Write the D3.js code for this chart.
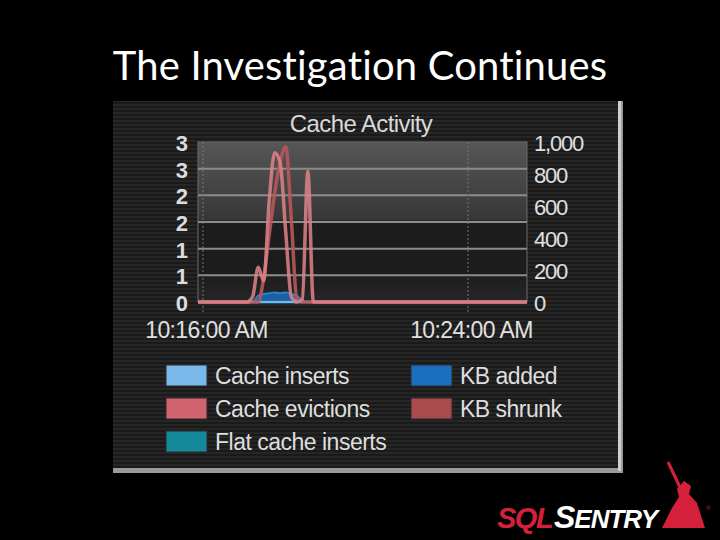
<!DOCTYPE html>
<html><head><meta charset="utf-8">
<script src="https://d3js.org/d3.v7.min.js"></script>
<style>html,body{margin:0;padding:0;background:#000;}svg{display:block;}</style>
</head><body>
<script>
// ---- data ----
const slideTitle = "The Investigation Continues";
const chartTitle = "Cache Activity";
const times = ["10:15:51","10:17:20","10:17:30","10:17:40","10:17:50","10:18:00","10:18:10","10:18:20","10:18:30","10:18:40","10:18:50","10:19:00","10:19:10","10:19:20","10:19:30","10:25:47"];
const cacheInserts     = [0,0,0,0,0,0,0,0,0,0,0,0,0,0,0,0];
const cacheEvictions   = [0,0,0.1,0.65,0.4,1.9,2.8,2.6,1.3,0.1,0,0.05,2.45,0,0,0];
const flatCacheInserts = [0,0,0,0,0,0,0,0,0,0,0,0,0,0,0,0];
const kbAdded          = [0,0,0,40,50,55,60,55,60,50,40,10,0,0,0,0];
const kbShrunk         = [0,0,0,0,150,420,680,880,970,520,20,0,0,0,0,0];
const leftTicks  = [0,0.5,1,1.5,2,2.5,3];
const rightTicks = [0,200,400,600,800,1000];
const xTicks = ["10:16:00","10:24:00"];
const legendItems = [
  {name:"Cache inserts", color:"#7ab8ea", col:0, row:0},
  {name:"Cache evictions", color:"#d2646f", col:0, row:1},
  {name:"Flat cache inserts", color:"#13899a", col:0, row:2},
  {name:"KB added", color:"#1c6fc0", col:1, row:0},
  {name:"KB shrunk", color:"#a94a4c", col:1, row:1}
];

const W=720,H=540;
const svg=d3.select("body").append("svg").attr("width",W).attr("height",H);
svg.append("rect").attr("width",W).attr("height",H).attr("fill","#000");

const defs=svg.append("defs");
const pat=defs.append("pattern").attr("id","stripes").attr("width",4).attr("height",4).attr("patternUnits","userSpaceOnUse");
pat.append("rect").attr("width",4).attr("height",4).attr("fill","#1a1a1a");
pat.append("rect").attr("width",4).attr("height",2).attr("fill","#262626");
const grad=defs.append("linearGradient").attr("id","plotbg").attr("x1",0).attr("x2",0).attr("y1",0).attr("y2",1);
[[0,"#565656"],[0.48,"#383838"],[0.5,"#1d1d1d"],[0.8,"#1c1c1c"],[1,"#262626"]].forEach(s=>grad.append("stop").attr("offset",s[0]).attr("stop-color",s[1]));

// slide title
const tt=svg.append("text").attr("x",360).attr("y",80).attr("text-anchor","middle")
  .attr("font-family","Lato, 'Open Sans', sans-serif").attr("font-size",38).attr("fill","#fff")
  .attr("letter-spacing",0.2)
  .style("font-variant-ligatures","none").style("font-feature-settings","'liga' 0, 'clig' 0, 'dlig' 0, 'calt' 0").text(slideTitle);
const tw=tt.node().getComputedTextLength();
tt.attr("font-size",38*495/tw);

// panel
svg.append("rect").attr("x",113).attr("y",101).attr("width",510).attr("height",372).attr("fill","#9a9a9a");
svg.append("rect").attr("x",113).attr("y",101).attr("width",505).attr("height",367).attr("fill","url(#stripes)");
svg.append("rect").attr("x",618).attr("y",101).attr("width",3).attr("height",370).attr("fill","#d0d0d0");

const font="'Liberation Sans', Arial, sans-serif";
svg.append("text").attr("x",361).attr("y",132).attr("text-anchor","middle").attr("font-family",font)
  .attr("font-size",24).attr("fill","#d8d8d8").attr("letter-spacing",-0.6).text(chartTitle);

const parse=d3.timeParse("%H:%M:%S");
const tdates=times.map(parse);
const x=d3.scaleTime().domain([parse("10:15:51"),parse("10:25:47")]).range([198,527]);
const yL=d3.scaleLinear().domain([0,3]).range([302,142]);
const yR=d3.scaleLinear().domain([0,1000]).range([302,142]);

// plot background
svg.append("rect").attr("x",198).attr("y",142).attr("width",329).attr("height",160).attr("fill","url(#plotbg)").attr("stroke","#6a6a6a");

// gridlines
svg.append("g").selectAll("line").data(leftTicks.slice(1,-1)).join("line")
  .attr("x1",198).attr("x2",527).attr("y1",d=>yL(d)).attr("y2",d=>yL(d))
  .attr("stroke","#8c8c8c").attr("stroke-width",2);
svg.append("g").selectAll("line").data(xTicks).join("line")
  .attr("x1",d=>x(parse(d))).attr("x2",d=>x(parse(d))).attr("y1",142).attr("y2",312)
  .attr("stroke","#777").attr("stroke-width",1).attr("stroke-dasharray","2,2");

// left axis
const gl=svg.append("g").attr("transform","translate(188,0)")
  .call(d3.axisLeft(yL).tickValues(leftTicks).tickFormat(d3.format(".0f")).tickSize(0).tickPadding(0));
gl.select(".domain").remove();
gl.selectAll("text").attr("font-family",font).attr("font-size",22).attr("font-weight","bold").attr("fill","#dcdcdc").attr("dy","0.38em");
// right axis
const gr=svg.append("g").attr("transform","translate(534,0)")
  .call(d3.axisRight(yR).tickValues(rightTicks).tickFormat(d3.format(",")).tickSize(0).tickPadding(0));
gr.select(".domain").remove();
gr.selectAll("text").attr("font-family",font).attr("font-size",22).attr("fill","#e0e0e0").attr("letter-spacing",-1.2).attr("dy","0.38em");
// x axis
const gx=svg.append("g").attr("transform","translate(0,322)")
  .call(d3.axisBottom(x).tickValues(xTicks.map(parse)).tickFormat(d3.timeFormat("%I:%M:%S %p")).tickSize(0).tickPadding(0));
gx.select(".domain").remove();
gx.selectAll("text").attr("font-family",font).attr("font-size",23).attr("fill","#e0e0e0").attr("letter-spacing",-0.6).attr("dy","0.71em")
  .attr("dx",3);

// series
const idx=d3.range(times.length);
const lineL=d3.line().x(i=>x(tdates[i])).y(i=>yL(cacheEvictions[i])).curve(d3.curveMonotoneX);
svg.append("path").datum(idx).attr("fill","none").attr("stroke","#13899a").attr("stroke-width",3)
  .attr("d",d3.line().x(i=>x(tdates[i])).y(i=>yL(flatCacheInserts[i]))(idx));
svg.append("path").datum(idx).attr("fill","#1c6fc0").attr("fill-opacity",0.8)
  .attr("stroke","#2a80cc").attr("stroke-width",2)
  .attr("d",d3.area().x(i=>x(tdates[i])).y0(yR(0)).y1(i=>yR(kbAdded[i])).curve(d3.curveMonotoneX)(idx));
svg.append("path").datum(idx).attr("fill","none").attr("stroke","#7ab8ea").attr("stroke-width",2)
  .attr("d",d3.line().x(i=>x(tdates[i])).y(i=>yL(cacheInserts[i]))(idx));
svg.append("path").datum(idx).attr("fill","none").attr("stroke","#b9575c").attr("stroke-width",3.5).attr("stroke-opacity",0.9)
  .attr("d",d3.line().x(i=>x(tdates[i])).y(i=>yR(kbShrunk[i])).curve(d3.curveMonotoneX)(idx));
svg.append("path").datum(idx).attr("fill","none").attr("stroke","#de8388").attr("stroke-width",3.5).attr("stroke-opacity",0.85)
  .attr("d",lineL(idx));

// legend
const lg=svg.append("g");
const it=lg.selectAll("g").data(legendItems).join("g")
  .attr("transform",d=>`translate(${d.col?411:166},${365+d.row*33})`);
it.append("rect").attr("width",41).attr("height",21).attr("fill",d=>d.color).attr("stroke","#2a2a2a");
it.append("text").attr("x",49).attr("y",19).attr("font-family",font).attr("font-size",23).attr("fill","#dedede")
  .attr("letter-spacing",-0.5).text(d=>d.name);

// logo
const logo=svg.append("g");
logo.append("text").attr("x",497).attr("y",528).attr("font-family",font).attr("font-style","italic").attr("font-weight","bold")
  .attr("font-size",29).attr("fill","#d5203b").attr("letter-spacing",-1.5).text("SQL");
const st=logo.append("text").attr("x",554).attr("y",528).attr("font-family",font).attr("font-style","italic").attr("font-weight","bold")
  .attr("fill","#fff").attr("letter-spacing",-1);
st.append("tspan").attr("font-size",32).text("S");
st.append("tspan").attr("font-size",26).text("ENTRY");
logo.append("path").attr("d","M668 462 L686 500").attr("stroke","#d5203b").attr("stroke-width",3);
logo.append("path").attr("d","M662 528 L672 508 L679 497 L677 489 L684 481 L691 486 L689 494 L697 503 L705 528 Z").attr("fill","#d5203b");
logo.append("text").attr("x",706).attr("y",510).attr("font-family",font).attr("font-size",6).attr("fill","#d5203b").text("®");
</script>
</body></html>
